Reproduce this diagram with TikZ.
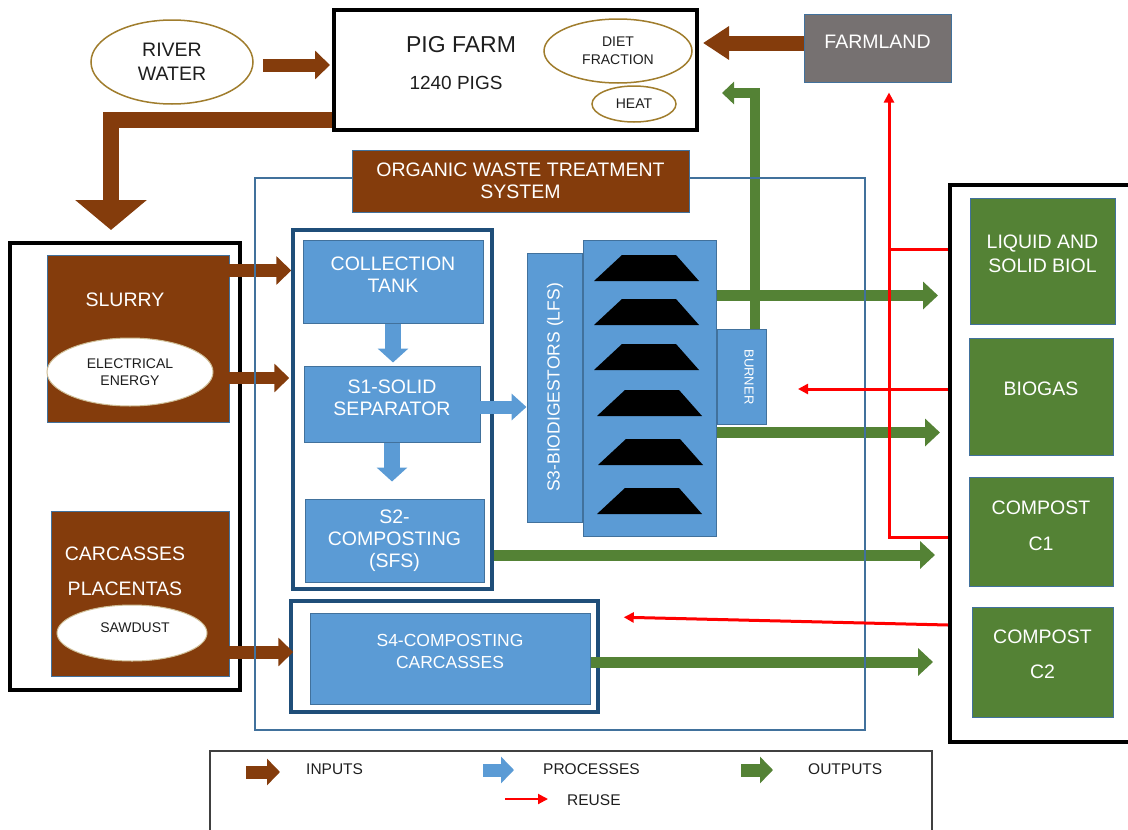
\documentclass[tikz,border=0pt]{standalone}
\usepackage{fontspec}
\setmainfont{Liberation Sans}
\usepackage{xcolor}
\definecolor{ColBrown}{RGB}{132,60,12}
\definecolor{ColBlue}{RGB}{91,155,213}
\definecolor{ColLine}{RGB}{65,113,156}
\definecolor{ColGreen}{RGB}{84,130,53}
\definecolor{ColNavy}{RGB}{31,78,121}
\definecolor{ColGray}{RGB}{118,113,113}
\definecolor{ColGold}{RGB}{160,125,45}
\definecolor{ColText}{RGB}{30,30,30}
\usepackage{tikz}
\usetikzlibrary{shapes.geometric}
\usetikzlibrary{arrows.meta}
\newcommand{\FtBig}{\fontsize{19.5}{22}\selectfont}
\newcommand{\FtMid}{\fontsize{15.5}{18}\selectfont}
\newcommand{\FtSmall}{\fontsize{14}{17}\selectfont}
\tikzstyle{Box}=[rectangle,inner sep=0pt,draw=ColLine,line width=1pt,align=center]
\tikzstyle{BrownBox}=[Box,fill=ColBrown,text=white,font=\FtBig]
\tikzstyle{BlueBox}=[Box,fill=ColBlue,text=white,font=\FtBig]
\tikzstyle{GreenBox}=[Box,fill=ColGreen,text=white,font=\FtBig]
\tikzstyle{Frame}=[rectangle,inner sep=0pt,draw=black,line width=4pt]
\tikzstyle{NavyFrame}=[rectangle,inner sep=0pt,draw=ColNavy,line width=3.5pt]
\tikzstyle{GoldEll}=[ellipse,inner sep=0pt,draw=ColGold,line width=1.5pt,
fill=white,text=ColText,align=center]
\tikzstyle{Txt}=[inner sep=0pt,align=center]
\tikzstyle{InArrow}=[draw=ColBrown,line width=13pt,line join=miter,
-{Triangle[length=15pt,width=28pt]}]
\tikzstyle{ProcArrow}=[draw=ColBlue,line width=16pt,
-{Triangle[length=14pt,width=30pt]}]
\tikzstyle{OutArrow}=[draw=ColGreen,line width=11pt,line join=miter,
-{Triangle[length=15pt,width=27pt]}]
\tikzstyle{Reuse}=[draw=red,line width=3pt,
-{Triangle[length=10pt,width=10pt]}]

\begin{document}
\begin{tikzpicture}[x=1pt,y=-1pt]
    \useasboundingbox (0,0) rectangle (1128,830);
    \clip (0,0) rectangle (1128,830);
    % pig farm row
    \node[GoldEll,minimum width=162pt,minimum height=84pt,font=\FtBig](river)
        at(172,62){RIVER\\[2pt]WATER};
    \node[Frame,minimum width=363pt,minimum height=120pt](pig)at(515.5,70){};
    \node[Txt,text=ColText,font=\fontsize{23}{26}\selectfont](pigT)
        at(461,45){PIG FARM};
    \node[Txt,text=ColText,font=\fontsize{19}{22}\selectfont](pigN)
        at(456,83){1240 PIGS};
    \node[GoldEll,minimum width=148pt,minimum height=64pt,
        font=\fontsize{14}{18}\selectfont](diet)at(618,51){DIET\\FRACTION};
    \node[GoldEll,minimum width=84pt,minimum height=36pt,font=\FtSmall](heat)
        at(634,104){HEAT};
    \node[Box,fill=ColGray,minimum width=147pt,minimum height=68pt](farm)
        at(877.5,48){};
    \node[Txt,text=white,font=\FtBig](farmT)at(877.5,42){FARMLAND};
    % inputs
    \node[Frame,minimum width=230pt,minimum height=447pt](inBox)at(125,466.5){};
    \node[BrownBox,minimum width=182pt,minimum height=167pt](slurry)
        at(138,338.5){};
    \node[Txt,text=white,font=\FtBig](slurryT)at(125,300){SLURRY};
    \node[GoldEll,draw=ColGold!50,line width=1pt,minimum width=166pt,
        minimum height=68pt,font=\FtSmall](elec)at(130,372){ELECTRICAL\\ENERGY};
    \node[BrownBox,minimum width=178pt,minimum height=165pt](carc)
        at(140,593.5){};
    \node[Txt,text=white,font=\FtBig](carcT)
        at(125,571.5){CARCASSES\\[13pt]PLACENTAS};
    \node[GoldEll,draw=ColGold!50,line width=1pt,minimum width=150pt,
        minimum height=56pt](saw)at(132,633){};
    \node[Txt,text=ColText,font=\FtSmall](sawT)at(135,628){SAWDUST};
    % processes
    \node[NavyFrame,minimum width=199pt,minimum height=359pt](grp)
        at(392.5,409.5){};
    \node[BlueBox,minimum width=180pt,minimum height=83pt](tank)at(393,281.5){};
    \node[Txt,text=white,font=\FtBig](tankT)at(393,275){COLLECTION\\TANK};
    \node[BlueBox,minimum width=176pt,minimum height=76pt](sep)at(392,404){};
    \node[Txt,text=white,font=\FtBig](sepT)at(392,398){S1-SOLID\\SEPARATOR};
    \node[BlueBox,minimum width=179pt,minimum height=83pt](comp)
        at(394.5,540.5){S2-\\COMPOSTING\\(SFS)};
    \node[BlueBox,minimum width=55pt,minimum height=269pt](dig)
        at(554.5,387.5){};
    \node[Txt,text=white,rotate=90,font=\fontsize{17.5}{20}\selectfont](digT)
        at(555,387.5){S3-BIODIGESTORS (LFS)};
    \node[BlueBox,minimum width=133pt,minimum height=296pt](tanks)
        at(649.5,388){};
    \foreach \t/\d in {255/0,299/0,344/0,390/3,439/4,488/3}
        \fill (594+\d,\t+26) -- (699+\d,\t+26) -- (676+\d,\t)
            -- (622+\d,\t) -- cycle;
    \node[BlueBox,minimum width=49pt,minimum height=95pt](burner)
        at(741.5,376.5){};
    \node[Txt,text=white,rotate=-90,font=\fontsize{13}{15}\selectfont](burnT)
        at(749,377){BURNER};
    \node[NavyFrame,minimum width=307pt,minimum height=111pt](s4f)
        at(444.5,656.5){};
    \node[BlueBox,minimum width=280pt,minimum height=91pt](s4)at(450,658.5){};
    \node[Txt,text=white,font=\fontsize{17.5}{22}\selectfont](s4T)
        at(450,651){S4-COMPOSTING\\CARCASSES};
    % outputs
    \node[Frame,minimum width=190pt,minimum height=557pt](outBox)
        at(1045,463.5){};
    \node[GreenBox,minimum width=145pt,minimum height=126pt](biol)
        at(1042.5,261){};
    \node[Txt,text=white,font=\FtBig](biolT)
        at(1042.5,254){LIQUID AND\\[2pt]SOLID BIOL};
    \node[GreenBox,minimum width=144pt,minimum height=117pt](gas)
        at(1041,396.5){};
    \node[Txt,text=white,font=\FtBig](gasT)at(1041,389){BIOGAS};
    \node[GreenBox,minimum width=144pt,minimum height=109pt](c1)
        at(1041,531.5){};
    \node[Txt,text=white,font=\FtBig](c1T)at(1041,526){COMPOST\\[14pt]C1};
    \node[GreenBox,minimum width=141pt,minimum height=110pt](c2)
        at(1042.5,662){};
    \node[Txt,text=white,font=\FtBig](c2T)
        at(1042.5,654.5){COMPOST\\[13pt]C2};
    % input arrows
    \coordinate(dropTip)at(111,230);
    \draw[InArrow,line width=15pt,-{Triangle[length=26pt,width=32pt]}]
        ([yshift=5pt]farm.west) -- ([xshift=4pt,yshift=5pt]farm.west -| pig.east);
    \draw[InArrow] ([xshift=9pt,yshift=-3pt]river.east)
        -- ([xshift=-2pt,yshift=-3pt]river.east -| pig.west);
    \draw[InArrow,line width=16pt,-{Triangle[length=30pt,width=70pt]}]
        ([yshift=-50pt]pig.west) -| (dropTip);
    \draw[InArrow] ([xshift=-16pt,yshift=-16pt]slurry.north east)
        -- ([yshift=-16pt]slurry.north east -| grp.west);
    \draw[InArrow,line width=12pt] ([yshift=-6pt]elec.east)
        -- ([xshift=-2pt,yshift=-6pt]elec.east -| grp.west);
    \draw[InArrow] ([yshift=-19pt]saw.east)
        -- ([xshift=4pt,yshift=-19pt]saw.east -| s4f.west);
    % process arrows
    \draw[ProcArrow] (tank.south) -- ([yshift=3pt]sep.north -| tank.south);
    \draw[ProcArrow] (sep.south) -- ([yshift=17pt]comp.north -| sep.south);
    \draw[ProcArrow,line width=13pt,-{Triangle[length=15pt,width=26pt]}]
        ([xshift=-11pt,yshift=-3pt]sep.east) -- ([yshift=-3pt]sep.east -| dig.west);
    % output arrows
    \coordinate(burnTip)at(722,93);
    \draw[OutArrow,line width=10pt,-{Triangle[length=12pt,width=22pt]}]
        ([xshift=13.5pt]burner.north) |- (burnTip);
    \draw[OutArrow] ([yshift=-56pt]tanks.north east)
        -- ([xshift=-10pt,yshift=-56pt]tanks.north east -| outBox.west);
    \draw[OutArrow] ([yshift=104pt]tanks.south east)
        -- ([xshift=-8pt,yshift=104pt]tanks.south east -| outBox.west);
    \draw[OutArrow] ([yshift=-14.5pt]comp.east -| grp.east)
        -- ([xshift=-13pt,yshift=-14.5pt]comp.east -| outBox.west);
    \draw[OutArrow] ([yshift=-3.5pt]s4.east)
        -- ([xshift=-15pt,yshift=-3.5pt]s4.east -| outBox.west);
    % treatment system frame
    \node[rectangle,draw=ColLine,line width=2.5pt,minimum width=610pt,
        minimum height=552pt,inner sep=0pt](ows)at(560,454){};
    \node[BrownBox,minimum width=337pt,minimum height=62pt](owsT)
        at(520.5,181){ORGANIC WASTE TREATMENT\\SYSTEM};
    % reuse
    \coordinate(farmTip)at([xshift=11.5pt,yshift=-10pt]farm.south);
    \draw[Reuse] ([yshift=-73.5pt]outBox.west) -| (farmTip);
    \draw[Reuse,-] ([yshift=214.5pt]outBox.west)
        -- ([yshift=214.5pt]outBox.west -| farmTip);
    \draw[Reuse] ([yshift=74.5pt]outBox.west)
        -- ([xshift=-150pt,yshift=74.5pt]outBox.west);
    \draw[Reuse] ([yshift=-161.5pt]outBox.west)
        -- ([xshift=24pt,yshift=-18pt]s4f.north east);
    % legend
    \node[rectangle,draw=ColText!85,line width=2pt,minimum width=722pt,
        minimum height=100pt,inner sep=0pt](leg)at(571,801){};
    \node[Txt,anchor=west,text=ColText,font=\FtMid](legIn)at(306,769){INPUTS};
    \node[Txt,anchor=west,text=ColText,font=\FtMid](legProc)
        at(543,769){PROCESSES};
    \node[Txt,anchor=west,text=ColText,font=\FtMid](legOut)at(808,769){OUTPUTS};
    \node[Txt,anchor=west,text=ColText,font=\FtMid](legRe)at(567,800){REUSE};
    \draw[InArrow,-{Triangle[length=13pt,width=26pt]}]
        ([xshift=-60pt,yshift=-3pt]legIn.west) -- ([xshift=-26pt,yshift=-3pt]legIn.west);
    \draw[ProcArrow,line width=13pt,-{Triangle[length=13pt,width=26pt]}]
        ([xshift=-60pt,yshift=-1pt]legProc.west)
        -- ([xshift=-29pt,yshift=-1pt]legProc.west);
    \draw[OutArrow,line width=13pt,-{Triangle[length=13pt,width=26pt]}]
        ([xshift=-67pt,yshift=-1pt]legOut.west)
        -- ([xshift=-35pt,yshift=-1pt]legOut.west);
    \draw[Reuse,line width=2pt] ([xshift=-62pt,yshift=1pt]legRe.west)
        -- ([xshift=-19pt,yshift=1pt]legRe.west);
\end{tikzpicture}
\end{document}
